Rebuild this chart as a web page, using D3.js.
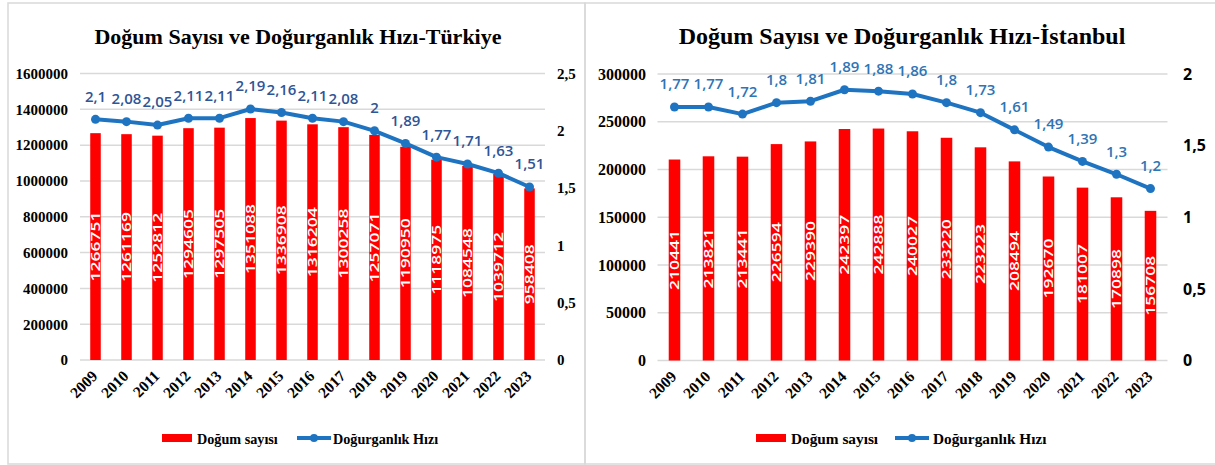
<!DOCTYPE html>
<html lang="tr">
<head>
<meta charset="utf-8">
<title>Doğum Sayısı ve Doğurganlık Hızı</title>
<script src="https://cdn.jsdelivr.net/npm/d3@7"></script>
<style>
  body { margin: 0; background: #fff; }
  svg { display: block; }
</style>
</head>
<body>
<script>
// data
var years = ["2009","2010","2011","2012","2013","2014","2015","2016","2017","2018","2019","2020","2021","2022","2023"];
var birthsTR = [1266751,1261169,1252812,1294605,1297505,1351088,1336908,1316204,1300258,1257071,1190950,1118975,1084548,1039712,958408];
var rateTR = [2.1,2.08,2.05,2.11,2.11,2.19,2.16,2.11,2.08,2,1.89,1.77,1.71,1.63,1.51];
var birthsIST = [210441,213821,213441,226594,229390,242397,242888,240027,233220,223223,208494,192670,181007,170898,156708];
var rateIST = [1.77,1.77,1.72,1.8,1.81,1.89,1.88,1.86,1.8,1.73,1.61,1.49,1.39,1.3,1.2];
var leftTicksTR = [0,200000,400000,600000,800000,1000000,1200000,1400000,1600000];
var rightTicksTR = [0,0.5,1,1.5,2,2.5];
var leftTicksIST = [0,50000,100000,150000,200000,250000,300000];
var rightTicksIST = [0,0.5,1,1.5,2];
var legendNames = ["Doğum sayısı", "Doğurganlık Hızı"];

var width = 1215, height = 465;
var serif = "'Liberation Serif', 'Times New Roman', serif";
var sans = "'Open Sans', sans-serif";
var lineColor = "#1f74c2";

var svg = d3.select("body").append("svg").attr("width", width).attr("height", height);

function comma(v) { return String(v).replace(".", ","); }

// panel frames
svg.append("rect").attr("x", 8).attr("y", 3).attr("width", 577).attr("height", 461)
  .attr("fill", "none").attr("stroke", "#d9d9d9").attr("stroke-width", 1.5);
svg.append("rect").attr("x", 585).attr("y", 3).attr("width", 640).attr("height", 461)
  .attr("fill", "none").attr("stroke", "#d9d9d9").attr("stroke-width", 1.5);

function drawPanel(p) {
  var g = svg.append("g");

  var x = d3.scaleBand().domain(years).range([p.x0, p.x1]).paddingInner(0.66).paddingOuter(0.33);
  var y = d3.scaleLinear().domain([0, p.leftTicks[p.leftTicks.length - 1]]).range([p.y0, p.y1]);
  var y2 = d3.scaleLinear().domain([0, p.rightTicks[p.rightTicks.length - 1]]).range([p.y0, p.y1]);
  var cx = function (d) { return x(d) + x.bandwidth() / 2; };

  // title
  g.append("text").attr("x", p.titleX).attr("y", 44).attr("text-anchor", "middle")
    .style("font-family", serif).style("font-weight", "bold").style("font-size", p.titleSize + "px")
    .text(p.title);

  // grid
  g.selectAll(".grid").data(p.leftTicks).enter().append("line")
    .attr("x1", p.x0).attr("x2", p.x1)
    .attr("y1", function (d) { return y(d); }).attr("y2", function (d) { return y(d); })
    .attr("stroke", "#d9d9d9").attr("stroke-width", 1.5);

  // left axis
  var ax = g.append("g").attr("transform", "translate(" + (p.leftLabelX) + ",0)")
    .call(d3.axisLeft(y).tickValues(p.leftTicks).tickSize(0).tickPadding(0).tickFormat(d3.format("d")));
  ax.select(".domain").remove();
  ax.selectAll("text").style("font-family", serif).style("font-weight", "bold")
    .style("font-size", p.leftSize + "px").attr("fill", "#000");

  // right axis
  var ax2 = g.append("g").attr("transform", "translate(" + p.rightLabelX + ",0)")
    .call(d3.axisRight(y2).tickValues(p.rightTicks).tickSize(0).tickPadding(0).tickFormat(comma));
  ax2.select(".domain").remove();
  ax2.selectAll("text").style("font-family", p.rightFont).style("font-weight", "bold")
    .style("font-size", p.rightSize + "px").attr("fill", "#000");

  // bars
  g.selectAll(".bar").data(p.births).enter().append("rect")
    .attr("x", function (d, i) { return x(years[i]); })
    .attr("y", function (d) { return y(d); })
    .attr("width", x.bandwidth())
    .attr("height", function (d) { return p.y0 - y(d); })
    .attr("fill", "#ff0000");

  // bar labels
  g.selectAll(".blab").data(p.births).enter().append("text")
    .attr("transform", function (d, i) {
      return "translate(" + cx(years[i]) + "," + ((y(d) + p.y0) / 2) + ") rotate(-90)";
    })
    .attr("text-anchor", "middle").attr("dy", "0.36em")
    .attr("textLength", function (d) { return String(d).length * 10; })
    .attr("lengthAdjust", "spacingAndGlyphs")
    .style("font-family", sans).style("font-weight", "600").style("font-size", "12.5px").attr("fill", "#fff")
    .text(function (d) { return d; });

  // year labels
  g.selectAll(".year").data(years).enter().append("text")
    .attr("transform", function (d) { return "translate(" + (cx(d) + 3) + "," + (p.y0 + 17) + ") rotate(-45)"; })
    .attr("text-anchor", "end")
    .style("font-family", serif).style("font-weight", "bold").style("font-size", "15.5px")
    .text(function (d) { return d; });

  // line
  var line = d3.line()
    .x(function (d, i) { return cx(years[i]); })
    .y(function (d) { return y2(d); });
  g.append("path").datum(p.rate).attr("d", line)
    .attr("fill", "none").attr("stroke", lineColor).attr("stroke-width", 4).attr("stroke-linejoin", "round");
  g.selectAll(".pt").data(p.rate).enter().append("circle")
    .attr("cx", function (d, i) { return cx(years[i]); })
    .attr("cy", function (d) { return y2(d); })
    .attr("r", 4.5).attr("fill", lineColor);
  g.selectAll(".rlab").data(p.rate).enter().append("text")
    .attr("x", function (d, i) { return cx(years[i]); })
    .attr("y", function (d) { return y2(d) - 23; })
    .attr("text-anchor", "middle").attr("dy", "0.36em")
    .style("font-family", sans).style("font-weight", "600").style("font-size", "15px").attr("fill", p.labelColor)
    .text(function (d) { return comma(d); });

  // legend
  var lg = g.append("g").style("font-family", serif).style("font-weight", "bold").style("font-size", p.legendSize + "px");
  lg.append("rect").attr("x", p.legend[0]).attr("y", 434).attr("width", 30).attr("height", 8).attr("fill", "#ff0000");
  lg.append("text").attr("x", p.legend[1]).attr("y", 443.5).text(legendNames[0]);
  lg.append("line").attr("x1", p.legend[2]).attr("x2", p.legend[2] + 34).attr("y1", 438).attr("y2", 438)
    .attr("stroke", lineColor).attr("stroke-width", 4);
  lg.append("circle").attr("cx", p.legend[2] + 17).attr("cy", 438).attr("r", 4).attr("fill", lineColor);
  lg.append("text").attr("x", p.legend[3]).attr("y", 443.5).text(legendNames[1]);
}

drawPanel({
  title: "Doğum Sayısı ve Doğurganlık Hızı-Türkiye", titleX: 298, titleSize: 22,
  births: birthsTR, rate: rateTR, leftTicks: leftTicksTR, rightTicks: rightTicksTR,
  x0: 80, x1: 545, y0: 360, y1: 73.5,
  leftLabelX: 68, leftSize: 15, rightLabelX: 557, rightSize: 15, rightFont: serif,
  labelColor: "#2f5597", legendSize: 14.2, legend: [162, 197, 297, 333]
});

drawPanel({
  title: "Doğum Sayısı ve Doğurganlık Hızı-İstanbul", titleX: 902, titleSize: 24,
  births: birthsIST, rate: rateIST, leftTicks: leftTicksIST, rightTicks: rightTicksIST,
  x0: 657.5, x1: 1167.5, y0: 360.5, y1: 74,
  leftLabelX: 646, leftSize: 16, rightLabelX: 1183, rightSize: 16, rightFont: sans,
  labelColor: "#2e75b6", legendSize: 15.3, legend: [756, 791, 895, 933]
});
</script>
</body>
</html>
